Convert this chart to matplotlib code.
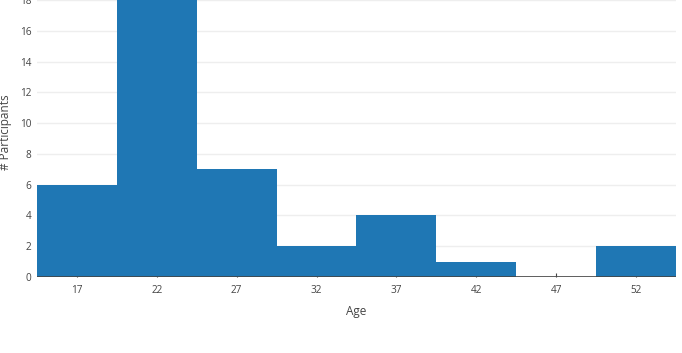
import numpy as np
import matplotlib.pyplot as plt

# histogram data
bin_left = [14.5, 19.5, 24.5, 29.5, 34.5, 39.5, 44.5, 49.5]
counts = [6, 18, 7, 2, 4, 1, 0, 2]
bin_width = 5
xticks = [17, 22, 27, 32, 37, 42, 47, 52]
yticks = [0, 2, 4, 6, 8, 10, 12, 14, 16, 18]

plt.rcParams['font.family'] = ['Open Sans', 'DejaVu Sans']

W, H = 682, 353
fig = plt.figure(figsize=(W / 100, H / 100), dpi=100)
ax = fig.add_axes([37 / W, 1 - 277 / H, (676 - 37) / W, 277 / H])

ax.bar(bin_left, counts, width=bin_width, align='edge', color='#1f77b4', zorder=2)
ax.set_xlim(bin_left[0], bin_left[-1] + bin_width)
ax.set_ylim(0, 17.95)

ax.set_xticks(xticks)
ax.set_yticks(yticks)
ax.grid(axis='y', color='#eeeeee', lw=1, zorder=0)
ax.axhline(0, color='#444444', lw=1.2, zorder=3)
for s in ax.spines.values():
    s.set_visible(False)
ax.tick_params(axis='x', direction='in', length=3, color='#444444', pad=6,
               labelsize=7.2, labelcolor='#444444')
ax.tick_params(axis='y', length=0, pad=4, labelsize=7.2, labelcolor='#444444')

# axis titles placed like the reference
fig.text(356 / W, 1 - 312 / H, 'Age', fontsize=8.5, color='#444444',
         ha='center', va='center')
fig.text(6 / W, 1 - 132 / H, '# Participants', fontsize=8.5, color='#444444',
         ha='center', va='center', rotation=90)

fig.savefig('out.png', dpi=100)
